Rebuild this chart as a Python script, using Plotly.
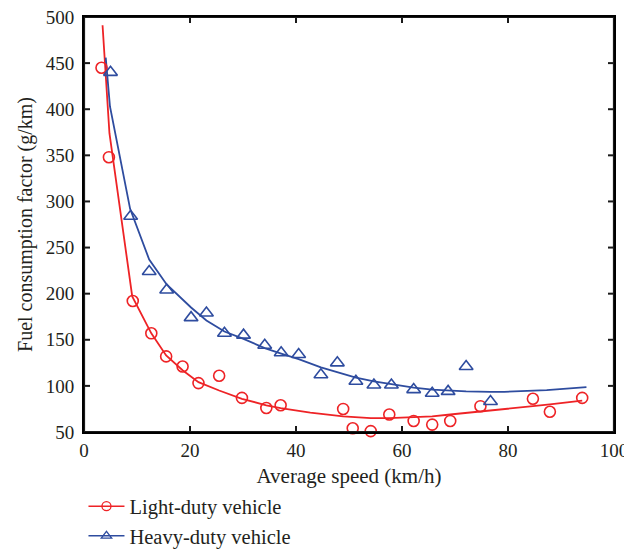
import plotly.graph_objects as go

# Light-duty vehicle measurements
light_x = [3.3, 4.7, 9.2, 12.7, 15.5, 18.6, 21.6, 25.5, 29.8, 34.4, 37.1, 48.9, 50.7, 54.1, 57.6, 62.2, 65.7, 69.1, 74.8, 84.7, 87.9, 94.0]
light_y = [445, 348, 192, 157, 132, 121, 103, 111, 87, 76, 79, 75, 54, 51, 69, 62, 58, 62, 78, 86, 72, 87]

# Heavy-duty vehicle measurements
heavy_x = [5.0, 8.8, 12.3, 15.6, 20.2, 23.1, 26.5, 30.1, 34.1, 37.2, 40.5, 44.7, 47.8, 51.3, 54.7, 58.0, 62.2, 65.7, 68.7, 72.1, 76.7]
heavy_y = [440, 284, 224, 204, 174, 179, 157, 155, 144, 136, 134, 112, 125, 105, 101, 101, 96, 92, 94, 121, 83]

# Fitted curves
light_fit_x = [3.5, 4.8, 9.1, 12.7, 15.5, 18.6, 21.6, 25.5, 29.8, 34.4, 37.1, 42.7, 48.9, 54.1, 57.6, 62.2, 65.7, 69.1, 74.8, 84.7, 87.9, 94.0]
light_fit_y = [491, 374, 197, 157, 133, 117, 104, 95, 86, 79, 76, 71, 67, 65, 65, 66, 67, 69, 72, 78, 80, 84]

heavy_fit_x = [4.1, 4.9, 8.7, 12.3, 15.6, 20.2, 23.1, 26.5, 30.1, 34.1, 37.2, 40.5, 44.7, 47.8, 51.3, 54.7, 58.0, 62.2, 65.7, 68.7, 72.1, 76.7, 79.3, 87.3, 94.8]
heavy_fit_y = [456, 403, 292, 237, 210, 185, 171, 159, 151, 141, 135, 129, 120, 115, 109, 105, 102, 98, 96, 95, 94, 93.5, 93.5, 95.5, 98.6]

x_ticks = [0, 20, 40, 60, 80, 100]
y_ticks = [50, 100, 150, 200, 250, 300, 350, 400, 450, 500]

RED = "#ee2326"
BLUE = "#2e4c9f"
INK = "#231f20"
FRAME = "#1a1a1a"
FONT = "Liberation Serif"

PW, PH = 530, 415
TL = 6

x0, x1 = x_ticks[0], x_ticks[-1]
y0, y1 = y_ticks[0], y_ticks[-1]
dx_tick = TL * (x1 - x0) / PW
dy_tick = TL * (y1 - y0) / PH

fig = go.Figure()

fig.add_trace(go.Scatter(x=light_fit_x, y=light_fit_y, mode="lines",
                         line=dict(color=RED, width=1.8), showlegend=False, hoverinfo="skip", cliponaxis=False))
fig.add_trace(go.Scatter(x=heavy_fit_x, y=heavy_fit_y, mode="lines",
                         line=dict(color=BLUE, width=1.8), showlegend=False, hoverinfo="skip", cliponaxis=False))
fig.add_trace(go.Scatter(x=light_x, y=light_y, mode="markers",
                         marker=dict(symbol="circle-open", size=11, color=RED, line=dict(width=1.6)),
                         showlegend=False, cliponaxis=False))
fig.add_trace(go.Scatter(x=heavy_x, y=heavy_y, mode="markers",
                         marker=dict(symbol="triangle-up-open", size=12, color=BLUE, line=dict(width=1.6)),
                         showlegend=False, cliponaxis=False))

# frame (axis box) and inward tick marks, drawn on top
fig.add_trace(go.Scatter(x=[x0, x1, x1, x0, x0], y=[y0, y0, y1, y1, y0], mode="lines",
                         line=dict(color=FRAME, width=2.2), showlegend=False, hoverinfo="skip", cliponaxis=False))
tx, ty = [], []
for v in x_ticks[1:-1]:
    tx += [v, v, None, v, v, None]
    ty += [y0, y0 + dy_tick, None, y1, y1 - dy_tick, None]
for v in y_ticks[1:-1]:
    tx += [x0, x0 + dx_tick, None, x1, x1 - dx_tick, None]
    ty += [v, v, None, v, v, None]
fig.add_trace(go.Scatter(x=tx, y=ty, mode="lines", line=dict(color=FRAME, width=2),
                         showlegend=False, hoverinfo="skip", cliponaxis=False, connectgaps=False))

# legend entries
fig.add_trace(go.Scatter(x=[None], y=[None], mode="lines+markers", name="Light-duty vehicle",
                         line=dict(color=RED, width=1.5),
                         marker=dict(symbol="circle-open", size=9, color=RED, line=dict(width=1.3))))
fig.add_trace(go.Scatter(x=[None], y=[None], mode="lines+markers", name="Heavy-duty vehicle",
                         line=dict(color=BLUE, width=1.5),
                         marker=dict(symbol="triangle-up-open", size=9, color=BLUE, line=dict(width=1.3))))

fig.update_layout(
    width=624, height=542,
    margin=dict(l=76, r=18, t=9, b=118, autoexpand=False),
    plot_bgcolor="white", paper_bgcolor="white",
    font=dict(family=FONT, size=19, color=INK),
    xaxis=dict(range=[x0, x1], tickvals=x_ticks, ticktext=[str(v) for v in x_ticks],
               showgrid=False, zeroline=False, showline=True, linecolor="#000000", linewidth=2,
               mirror=True, ticks="",
               tickfont=dict(family=FONT, size=19, color=INK), automargin=False,
               ticklabeloverflow="allow",
               title=dict(text="Average speed (km/h)", font=dict(family=FONT, size=21, color=INK), standoff=9)),
    yaxis=dict(range=[y0, y1], tickvals=y_ticks, ticktext=[str(v) for v in y_ticks],
               showgrid=False, zeroline=False, showline=True, linecolor="#000000", linewidth=2,
               mirror=True, ticks="",
               tickfont=dict(family=FONT, size=19, color=INK), automargin=False, ticklabelstandoff=4,
               ticklabeloverflow="allow",
               title=dict(text="Fuel consumption factor (g/km)", font=dict(family=FONT, size=20, color=INK), standoff=8)),
    legend=dict(x=-0.001, y=-0.131, xanchor="left", yanchor="top", orientation="v",
                font=dict(family=FONT, size=20.5, color=INK), itemwidth=36,
                bgcolor="rgba(0,0,0,0)", tracegroupgap=0),
)

fig.write_html("out.html")
